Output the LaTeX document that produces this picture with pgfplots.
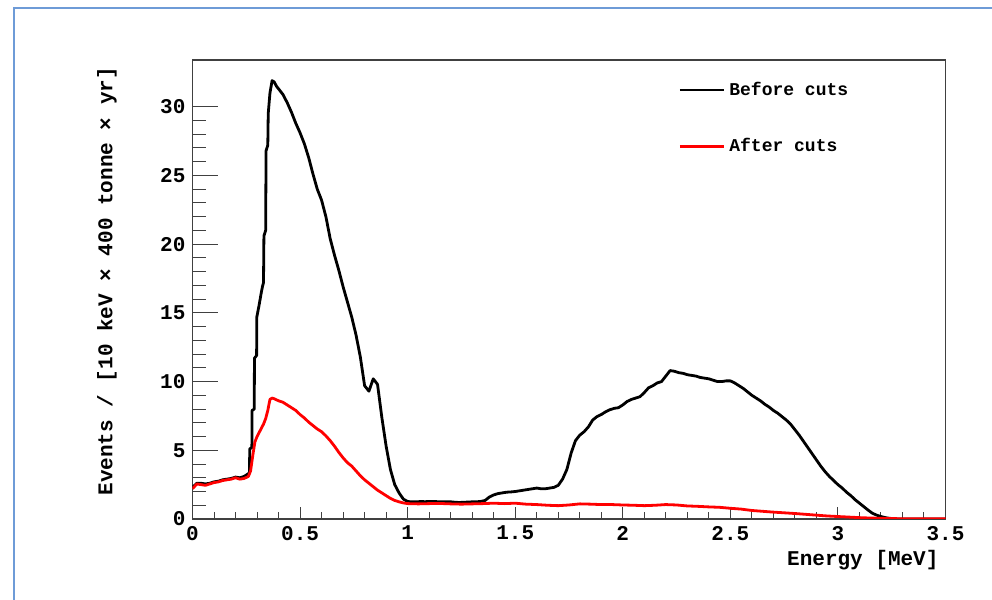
\documentclass[border=0pt]{standalone}
\usepackage{fontspec}
\setmainfont{Liberation Mono}
\usepackage{pgfplots}
\pgfplotsset{compat=1.18}
\usepackage{pgfplotstable}
\definecolor{framebl}{RGB}{110,155,215}
\definecolor{rootred}{RGB}{255,0,0}

\pgfplotstableread{
E v
0.00 2.3
0.02 2.6
0.04 2.6
0.06 2.55
0.08 2.6
0.10 2.7
0.12 2.75
0.14 2.85
0.16 2.9
0.18 2.95
0.20 3.05
0.22 3.0
0.24 3.1
0.26 3.3
0.265 3.4
0.266 5.1
0.276 5.2
0.277 7.9
0.287 8.0
0.288 11.7
0.298 11.9
0.299 14.7
0.31 15.6
0.32 16.5
0.325 16.9
0.33 17.2
0.332 20.6
0.34 21.0
0.342 26.8
0.35 27.2
0.352 29.5
0.36 31.0
0.37 31.9
0.38 31.8
0.39 31.5
0.40 31.3
0.42 30.9
0.44 30.3
0.46 29.6
0.48 28.8
0.50 28.1
0.52 27.3
0.54 26.3
0.56 25.1
0.58 24.0
0.60 23.2
0.62 22.0
0.64 20.4
0.66 19.2
0.68 18.1
0.70 16.9
0.72 15.8
0.74 14.7
0.76 13.4
0.78 11.8
0.80 9.7
0.82 9.3
0.84 10.2
0.86 9.8
0.88 7.4
0.90 5.3
0.92 3.6
0.94 2.5
0.96 1.9
0.98 1.45
1.00 1.27
1.02 1.25
1.04 1.25
1.06 1.27
1.08 1.26
1.10 1.27
1.12 1.27
1.14 1.26
1.16 1.25
1.18 1.26
1.20 1.25
1.22 1.22
1.24 1.2
1.26 1.22
1.28 1.23
1.30 1.25
1.32 1.25
1.34 1.28
1.36 1.35
1.38 1.6
1.40 1.75
1.42 1.85
1.44 1.9
1.46 1.95
1.48 1.97
1.50 2.0
1.52 2.05
1.54 2.1
1.56 2.15
1.58 2.2
1.60 2.25
1.62 2.2
1.64 2.2
1.66 2.25
1.68 2.3
1.70 2.45
1.72 2.9
1.74 3.6
1.76 4.8
1.78 5.7
1.80 6.1
1.82 6.35
1.84 6.7
1.86 7.2
1.88 7.45
1.90 7.6
1.92 7.8
1.94 7.95
1.96 8.05
1.98 8.1
2.00 8.3
2.02 8.55
2.04 8.7
2.06 8.8
2.08 8.9
2.10 9.2
2.12 9.55
2.14 9.7
2.16 9.9
2.18 10.0
2.20 10.4
2.22 10.8
2.24 10.75
2.26 10.65
2.28 10.6
2.30 10.5
2.32 10.45
2.34 10.4
2.36 10.3
2.38 10.25
2.40 10.2
2.42 10.1
2.44 10.0
2.46 10.0
2.48 10.05
2.50 10.05
2.52 9.9
2.54 9.7
2.56 9.5
2.58 9.25
2.60 9.0
2.62 8.8
2.64 8.6
2.66 8.35
2.68 8.15
2.70 7.9
2.72 7.7
2.74 7.45
2.76 7.2
2.78 6.9
2.80 6.5
2.82 6.1
2.84 5.65
2.86 5.2
2.88 4.75
2.90 4.3
2.92 3.85
2.94 3.45
2.96 3.1
2.98 2.8
3.00 2.5
3.02 2.25
3.04 1.95
3.06 1.7
3.08 1.4
3.10 1.15
3.12 0.9
3.14 0.65
3.16 0.42
3.18 0.28
3.20 0.18
3.22 0.1
3.24 0.05
3.26 0.02
3.28 0.0
3.50 0.0
}\beforecuts

\pgfplotstableread{
E v
0.00 2.2
0.02 2.55
0.04 2.5
0.06 2.45
0.08 2.55
0.10 2.65
0.12 2.7
0.14 2.8
0.16 2.85
0.18 2.9
0.20 3.0
0.22 2.9
0.24 2.95
0.26 3.1
0.27 3.5
0.28 4.6
0.29 5.6
0.30 6.0
0.31 6.3
0.32 6.6
0.33 6.9
0.34 7.3
0.35 7.9
0.36 8.7
0.37 8.8
0.38 8.75
0.40 8.6
0.42 8.5
0.44 8.3
0.46 8.1
0.48 7.9
0.50 7.6
0.52 7.35
0.54 7.05
0.56 6.8
0.58 6.55
0.60 6.35
0.62 6.05
0.64 5.7
0.66 5.3
0.68 4.85
0.70 4.45
0.72 4.1
0.74 3.85
0.76 3.5
0.78 3.15
0.80 2.85
0.82 2.6
0.84 2.35
0.86 2.1
0.88 1.9
0.90 1.7
0.92 1.5
0.94 1.35
0.96 1.25
0.98 1.17
1.00 1.12
1.05 1.1
1.10 1.12
1.15 1.13
1.20 1.1
1.25 1.08
1.30 1.1
1.35 1.12
1.40 1.15
1.45 1.12
1.50 1.15
1.55 1.08
1.60 1.05
1.65 1.0
1.70 0.97
1.75 1.02
1.80 1.1
1.85 1.08
1.90 1.05
1.95 1.05
2.00 1.02
2.05 1.0
2.10 0.97
2.15 1.0
2.20 1.05
2.25 1.02
2.30 0.95
2.35 0.92
2.40 0.88
2.45 0.85
2.50 0.78
2.55 0.72
2.60 0.62
2.65 0.56
2.70 0.5
2.75 0.45
2.80 0.4
2.85 0.34
2.90 0.28
2.95 0.22
3.00 0.18
3.05 0.14
3.10 0.1
3.15 0.07
3.20 0.05
3.25 0.03
3.30 0.02
3.50 0.02
}\aftercuts

\begin{document}
\begin{tikzpicture}
\useasboundingbox (0pt,0pt) rectangle (496pt,300pt);
\draw[framebl, line width=1pt] (7pt,0pt) -- (7pt,296pt) -- (496pt,296pt);
\begin{axis}[
  at={(96.25pt,40.5pt)}, anchor=south west,
  scale only axis, width=376.5pt, height=229.5pt,
  xmin=0, xmax=3.5, ymin=0, ymax=33.4,
  xtick={0,0.5,...,3.5}, ytick={0,5,...,30},
  minor x tick num=4, minor y tick num=4,
  xtick pos=lower, ytick pos=left,
  tick align=inside,
  xtick style={/pgfplots/major tick length=6pt,/pgfplots/minor tick length=3.5pt,line width=0.5pt,black!75},
  ytick style={/pgfplots/major tick length=12.5pt,/pgfplots/minor tick length=6.5pt,line width=0.5pt,black!75},
  axis line style={line width=0.6pt, black!75},
  /pgf/number format/assume math mode=true,
  ticklabel style={font=\bfseries\fontsize{10.5}{12}\selectfont},
  xticklabels={0,0.5,1,1.5,2,2.5,3,3.5},
  yticklabels={0,5,10,15,20,25,30},
  xlabel={Energy [MeV]},
  ylabel={Events / [10 keV × 400 tonne × yr]},
  every axis x label/.style={at={(axis description cs:1,-0.0893)}, anchor=east,
    font=\bfseries\fontsize{10.5}{12}\selectfont},
  every axis y label/.style={at={(axis description cs:-0.1135,1)}, anchor=east, rotate=90,
    font=\bfseries\fontsize{10.5}{12}\selectfont},
  legend style={draw=none, fill=none, at={(axis description cs:0.645,0.962)}, anchor=north west,
    font=\bfseries\fontsize{9}{10}\selectfont, row sep=16pt, inner sep=0pt},
  legend cell align=left,
  legend image code/.code={\draw[#1] (0pt,0pt) -- (22pt,0pt);},
]
\addplot[sharp plot, black, line width=1.4pt, line join=round] table[x=E,y=v] {\beforecuts};
\addlegendentry{Before cuts}
\addplot[sharp plot, rootred, line width=1.4pt, line join=round] table[x=E,y=v] {\aftercuts};
\addlegendentry{After cuts}
\end{axis}
\end{tikzpicture}
\end{document}
